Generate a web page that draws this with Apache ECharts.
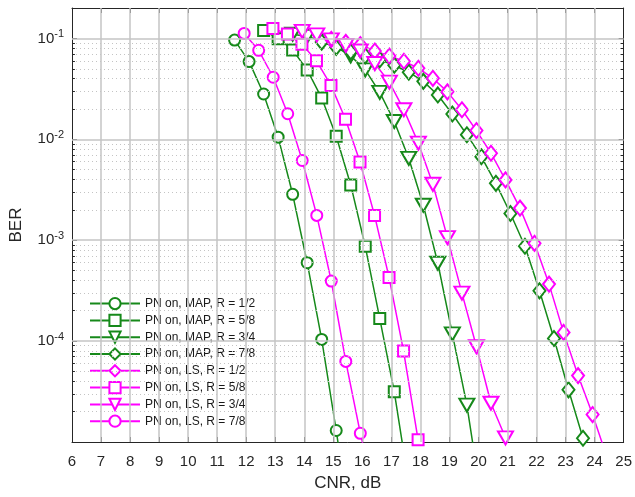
<!DOCTYPE html>
<html>
<head>
<meta charset="utf-8">
<script src="https://cdn.jsdelivr.net/npm/echarts@6/dist/echarts.min.js"></script>
<style>
  html, body { margin: 0; padding: 0; background: #fff; }
  #chart { width: 635px; height: 497px; }
</style>
</head>
<body>
<div id="chart"></div>
<script>
// CNR (dB) and BER values
const cnrMap12 = [11.6, 12.1, 12.6, 13.1, 13.6, 14.1, 14.6, 15.1, 15.6]
const berMap12 = [0.0962, 0.0589, 0.0281, 0.0105, 0.00285, 5.98e-4, 1.04e-4, 1.30e-5, 1.4e-6]

const cnrMap58 = [12.6, 13.1, 13.6, 14.1, 14.6, 15.1, 15.6, 16.1, 16.6, 17.1, 17.6]
const berMap58 = [0.120, 0.0993, 0.0767, 0.0487, 0.0256, 0.0107, 0.00353, 8.70e-4, 1.67e-4, 3.14e-5, 3.8e-6]

const cnrMap34 = [13.6, 14.1, 14.6, 15.1, 15.6, 16.1, 16.6, 17.1, 17.6, 18.1, 18.6, 19.1, 19.6, 20.1]
const berMap34 = [0.110, 0.1046, 0.0945, 0.0824, 0.0669, 0.0487, 0.0292, 0.0150, 0.00646, 0.00222, 5.91e-4, 1.18e-4, 2.32e-5, 2.7e-6]

const cnrMap78 = [14.6, 15.1, 15.6, 16.1, 16.6, 17.1, 17.6, 18.1, 18.6, 19.1, 19.6, 20.1, 20.6, 21.1, 21.6, 22.1, 22.6, 23.1, 23.6, 24.1]
const berMap78 = [0.0919, 0.0815, 0.0736, 0.0672, 0.0614, 0.0542, 0.0462, 0.0375, 0.0275, 0.0178, 0.0111, 0.00671, 0.00366, 0.00184, 8.70e-4, 3.15e-4, 1.06e-4, 3.29e-5, 1.09e-5, 3e-6]

const cnrLs12 = [14.93, 15.43, 15.93, 16.43, 16.93, 17.43, 17.93, 18.43, 18.93, 19.43, 19.93, 20.43, 20.93, 21.43, 21.93, 22.43, 22.93, 23.43, 23.93, 24.43]
const berLs12 = [0.0977, 0.0913, 0.0867, 0.0750, 0.0669, 0.0593, 0.0506, 0.0402, 0.0295, 0.0196, 0.0122, 0.00727, 0.00396, 0.00208, 9.31e-4, 3.67e-4, 1.22e-4, 4.55e-5, 1.87e-5, 7e-6]

const cnrLs58 = [12.92, 13.42, 13.92, 14.42, 14.92, 15.42, 15.92, 16.42, 16.92, 17.42, 17.92, 18.42]
const berLs58 = [0.1255, 0.1103, 0.0873, 0.0600, 0.0342, 0.0158, 0.00595, 0.00176, 4.28e-4, 7.96e-5, 1.05e-5, 2e-6]

const cnrLs34 = [13.93, 14.43, 14.93, 15.43, 15.93, 16.43, 16.93, 17.43, 17.93, 18.43, 18.93, 19.43, 19.93, 20.43, 20.93, 21.43]
const berLs34 = [0.1172, 0.1083, 0.0966, 0.0853, 0.0750, 0.0563, 0.0368, 0.0196, 0.00916, 0.00358, 1.06e-3, 2.99e-4, 8.79e-5, 2.42e-5, 1.10e-5, 3e-6]

const cnrLs78 = [11.93, 12.43, 12.93, 13.43, 13.93, 14.43, 14.93, 15.43, 15.93, 16.43]
const berLs78 = [0.112, 0.0762, 0.0412, 0.0179, 0.00616, 0.00176, 3.93e-4, 6.29e-5, 1.22e-5, 3e-6]

const legendNames = [
  'PN on, MAP, R = 1/2', 'PN on, MAP, R = 5/8', 'PN on, MAP, R = 3/4', 'PN on, MAP, R = 7/8',
  'PN on, LS, R = 1/2', 'PN on, LS, R = 5/8', 'PN on, LS, R = 3/4', 'PN on, LS, R = 7/8'
]

const xMin = 6
const xMax = 25
const yMin = 1e-5
const yMax = 0.2

const GREEN = '#16891a'
const MAGENTA = '#ff00ff'
const AXIS = '#262626'
const GRID = '#c4c4c4'
const FONT = '"Liberation Sans", Arial, sans-serif'

function lineSeries (name, xs, ys, color, symbol, size, rotate) {
  return {
    name: name,
    type: 'line',
    data: xs.map((x, i) => [x, ys[i]]),
    symbol: symbol,
    symbolSize: size,
    symbolRotate: rotate || 0,
    showAllSymbol: true,
    lineStyle: { color: color, width: 1.5 },
    itemStyle: { color: color, borderWidth: 1.5 },
    emphasis: { disabled: true },
    z: 3
  }
}

// minor log grid (2..9 x 10^e) and the small inner ticks on both y sides
const minorVals = []
for (let e = -5; e <= -2; e++) {
  for (let k = 2; k <= 9; k++) minorVals.push(k * Math.pow(10, e))
}
const minorGrid = minorVals.map(v => [{ coord: [xMin, v] }, { coord: [xMax, v] }])
const majorGrid = [1e-4, 1e-3, 1e-2, 1e-1].map(v => [{ coord: [xMin, v] }, { coord: [xMax, v] }])
const vGrid = []
for (let x = xMin + 1; x < xMax; x++) vGrid.push([{ coord: [x, yMin] }, { coord: [x, yMax] }])
const minorTicks = []
minorVals.forEach(v => {
  minorTicks.push([{ coord: [xMin, v] }, { coord: [xMin + 0.1, v] }])
  minorTicks.push([{ coord: [xMax - 0.1, v] }, { coord: [xMax, v] }])
})

function helper (lines, style, z) {
  return {
    type: 'line',
    data: [],
    silent: true,
    markLine: {
      silent: true,
      symbol: ['none', 'none'],
      label: { show: false },
      animation: false,
      lineStyle: style,
      emphasis: { disabled: true },
      data: lines
    },
    z: z
  }
}

const chart = echarts.init(document.getElementById('chart'))

chart.setOption({
  animation: false,
  backgroundColor: '#fff',
  textStyle: { fontFamily: FONT },
  grid: { left: 71, right: 11, top: 8, bottom: 52 },
  legend: {
    data: legendNames,
    orient: 'vertical',
    left: 84,
    top: 292,
    itemWidth: 50,
    itemHeight: 14,
    itemGap: 3.6,
    textStyle: { fontFamily: FONT, fontSize: 12, color: '#1a1a1a' }
  },
  xAxis: [{
    type: 'value',
    min: xMin,
    max: xMax,
    interval: 1,
    name: 'CNR, dB',
    nameLocation: 'middle',
    nameGap: 33,
    nameTextStyle: { fontFamily: FONT, fontSize: 17, color: AXIS },
    axisLine: { lineStyle: { color: AXIS, width: 1 } },
    axisTick: { inside: true, length: 5, lineStyle: { color: AXIS } },
    axisLabel: { fontFamily: FONT, fontSize: 15, color: AXIS, margin: 12 },
    splitLine: { show: false }
  }, {
    type: 'value',
    position: 'top',
    min: xMin,
    max: xMax,
    interval: 1,
    axisLine: { lineStyle: { color: AXIS, width: 1 } },
    axisTick: { inside: true, length: 5, lineStyle: { color: AXIS } },
    axisLabel: { show: false },
    splitLine: { show: false }
  }],
  yAxis: [{
    type: 'log',
    min: yMin,
    max: yMax,
    name: 'BER',
    nameLocation: 'middle',
    nameGap: 47,
    nameTextStyle: { fontFamily: FONT, fontSize: 17, color: AXIS },
    axisLine: { show: true, lineStyle: { color: AXIS, width: 1 } },
    axisTick: { inside: true, length: 5, lineStyle: { color: AXIS } },
    axisLabel: {
      margin: 8,
      formatter: function (v) {
        const e = Math.log10(v)
        const r = Math.round(e)
        if (Math.abs(e - r) > 1e-6 || r <= -5 || r >= 0) return ''
        return '{b|10}{s|' + r + '}'
      },
      rich: {
        b: { fontFamily: FONT, fontSize: 15, color: AXIS },
        s: { fontFamily: FONT, fontSize: 11, color: AXIS, padding: [0, 0, 9, 0] }
      }
    },
    splitLine: { show: false }
  }, {
    type: 'log',
    position: 'right',
    min: yMin,
    max: yMax,
    axisLine: { show: true, lineStyle: { color: AXIS, width: 1 } },
    axisTick: { inside: true, length: 5, lineStyle: { color: AXIS } },
    axisLabel: { show: false },
    splitLine: { show: false }
  }],
  series: [
    helper(minorGrid, { color: GRID, type: [1, 3], width: 1 }, 1),
    helper(majorGrid, { color: GRID, type: 'solid', width: 1.5 }, 1),
    helper(vGrid, { color: GRID, type: 'solid', width: 1.5 }, 1),
    helper(minorTicks, { color: AXIS, type: 'solid', width: 1 }, 4),
    lineSeries(legendNames[0], cnrMap12, berMap12, GREEN, 'emptyCircle', 11),
    lineSeries(legendNames[1], cnrMap58, berMap58, GREEN, 'emptyRect', 11),
    lineSeries(legendNames[2], cnrMap34, berMap34, GREEN, 'emptyTriangle', [15, 13], 180),
    lineSeries(legendNames[3], cnrMap78, berMap78, GREEN, 'emptyDiamond', [12, 15]),
    lineSeries(legendNames[4], cnrLs12, berLs12, MAGENTA, 'emptyDiamond', [12, 15]),
    lineSeries(legendNames[5], cnrLs58, berLs58, MAGENTA, 'emptyRect', 11),
    lineSeries(legendNames[6], cnrLs34, berLs34, MAGENTA, 'emptyTriangle', [15, 13], 180),
    lineSeries(legendNames[7], cnrLs78, berLs78, MAGENTA, 'emptyCircle', 11)
  ]
})
</script>
</body>
</html>
